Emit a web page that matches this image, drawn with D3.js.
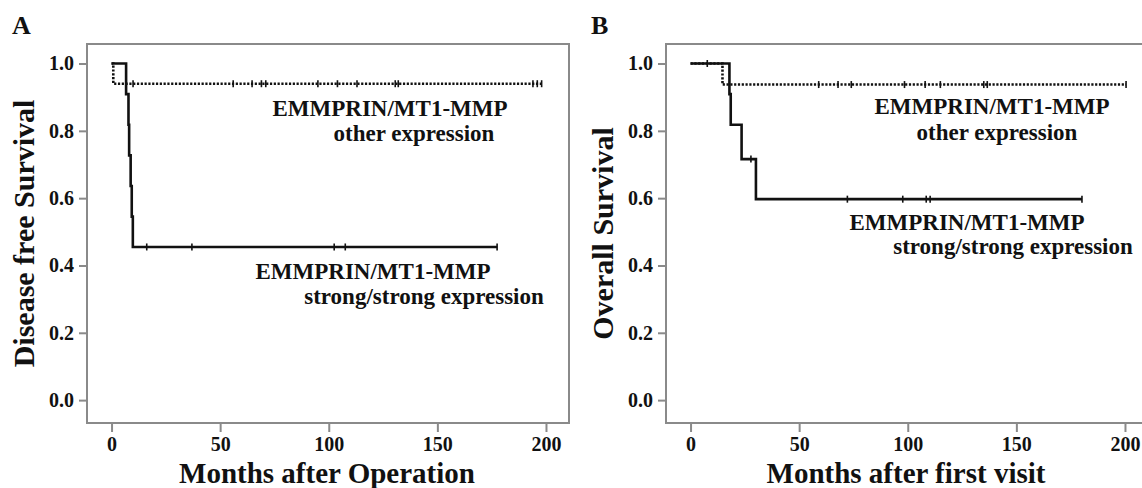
<!DOCTYPE html>
<html>
<head>
<meta charset="utf-8">
<script src="https://cdnjs.cloudflare.com/ajax/libs/d3/7.9.0/d3.min.js"></script>
<style>
  html, body { margin: 0; padding: 0; background: #fff; overflow: hidden; }
  text { font-family: "Liberation Serif", "DejaVu Serif", serif; font-weight: bold; fill: #111; }
</style>
</head>
<body>
<div id="grafico"></div>
<script>
// --- dados ---
const TICKS_X = [0, 50, 100, 150, 200];
const TICKS_Y = [0.0, 0.2, 0.4, 0.6, 0.8, 1.0];

// Painel A — sobrevida livre de doença
const A_FORTE_TEMPO  = [0, 6.7, 7.8, 8.1, 8.8, 9.3, 9.8, 177.5];
const A_FORTE_SOBREV = [1, 0.909, 0.818, 0.727, 0.636, 0.545, 0.455, 0.455];
const A_FORTE_CENSURA = [16.2, 37, 102.5, 107.6, 177.5];

const A_OUTRA_TEMPO  = [0, 0.8, 198];
const A_OUTRA_SOBREV = [1, 0.94, 0.94];
const A_OUTRA_CENSURA = [9.9, 56, 64.7, 69, 71, 95, 104, 113, 130.6, 132, 194, 196, 198];

// Painel B — sobrevida global
const B_FORTE_TEMPO  = [0, 17.9, 18.5, 23.5, 30.1, 180.2];
const B_FORTE_SOBREV = [1, 0.909, 0.818, 0.716, 0.597, 0.597];
const B_FORTE_CENSURA = [27.8, 72.2, 97.7, 108.5, 110.3, 180.2];

const B_OUTRA_TEMPO  = [0, 14.7, 200.5];
const B_OUTRA_SOBREV = [1, 0.9375, 0.9375];
const B_OUTRA_CENSURA = [7.7, 59, 67.9, 74, 98.5, 108, 115, 135, 136.6, 200.5];

const PAINEIS = [
  {
    letra: "A", x0: 87, tituloX: "Months after Operation", tituloY: "Disease free Survival",
    forte: { t: A_FORTE_TEMPO, s: A_FORTE_SOBREV, c: A_FORTE_CENSURA },
    outra: { t: A_OUTRA_TEMPO, s: A_OUTRA_SOBREV, c: A_OUTRA_CENSURA },
    rotulos: [
      { txt: "EMMPRIN/MT1-MMP", x: 390, y: 116 },
      { txt: "other expression", x: 414, y: 141 },
      { txt: "EMMPRIN/MT1-MMP", x: 373, y: 279 },
      { txt: "strong/strong expression", x: 424, y: 304 }
    ]
  },
  {
    letra: "B", x0: 666, tituloX: "Months after first visit", tituloY: "Overall Survival",
    forte: { t: B_FORTE_TEMPO, s: B_FORTE_SOBREV, c: B_FORTE_CENSURA },
    outra: { t: B_OUTRA_TEMPO, s: B_OUTRA_SOBREV, c: B_OUTRA_CENSURA },
    rotulos: [
      { txt: "EMMPRIN/MT1-MMP", x: 992, y: 114 },
      { txt: "other expression", x: 997, y: 140 },
      { txt: "EMMPRIN/MT1-MMP", x: 967, y: 230 },
      { txt: "strong/strong expression", x: 1013, y: 254 }
    ]
  }
];

const LARG = 1142, ALT = 488;
const TOPO = 44, BASE = 423, LARG_PAINEL = 482;
const COR_MOLDURA = "#8a8a8a";

const svg = d3.select("#grafico").append("svg")
  .attr("width", LARG).attr("height", ALT);

const y = d3.scaleLinear().domain([-0.068, 1.058]).range([BASE, TOPO]);

// valor de sobrevida num instante (degrau)
function sobrevEm(serie, t) {
  let v = serie.s[0];
  serie.t.forEach((tt, i) => { if (tt <= t) v = serie.s[i]; });
  return v;
}

PAINEIS.forEach(p => {
  const x = d3.scaleLinear().domain([-11.3, 210.6]).range([p.x0, p.x0 + LARG_PAINEL]);
  const g = svg.append("g");

  // moldura
  g.append("rect")
    .attr("x", p.x0).attr("y", TOPO)
    .attr("width", LARG_PAINEL).attr("height", BASE - TOPO)
    .attr("fill", "none").attr("stroke", COR_MOLDURA).attr("stroke-width", 2);

  // eixo X
  const eixoX = g.append("g").attr("transform", `translate(0,${BASE})`)
    .call(d3.axisBottom(x).tickValues(TICKS_X).tickFormat(d3.format("d")).tickSize(9).tickPadding(5));
  eixoX.select(".domain").remove();
  eixoX.selectAll("line").attr("stroke", COR_MOLDURA).attr("stroke-width", 2);
  eixoX.selectAll("text").attr("font-size", 20).attr("font-family", null);

  // eixo Y
  const eixoY = g.append("g").attr("transform", `translate(${p.x0},0)`)
    .call(d3.axisLeft(y).tickValues(TICKS_Y).tickFormat(d3.format(".1f")).tickSize(8).tickPadding(5));
  eixoY.select(".domain").remove();
  eixoY.selectAll("line").attr("stroke", COR_MOLDURA).attr("stroke-width", 2);
  eixoY.selectAll("text").attr("font-size", 20).attr("font-family", null);

  // títulos
  g.append("text").attr("x", p.x0 + 240).attr("y", 483)
    .attr("text-anchor", "middle").attr("font-size", 29).text(p.tituloX);
  g.append("text")
    .attr("transform", `translate(${p.x0 - 53},${(TOPO + BASE) / 2}) rotate(-90)`)
    .attr("text-anchor", "middle").attr("font-size", 30).text(p.tituloY);
  g.append("text").attr("x", p.x0 - 75).attr("y", 34)
    .attr("font-size", 26).text(p.letra);

  // curvas de Kaplan-Meier
  const linha = d3.line()
    .x(d => x(d[0])).y(d => y(d[1]))
    .curve(d3.curveStepAfter);

  [["outra", "2.2,1.6"], ["forte", null]].forEach(([k, dash]) => {
    const serie = p[k];
    const pts = serie.t.map((t, i) => [t, serie.s[i]]);
    g.append("path").datum(pts)
      .attr("d", linha)
      .attr("fill", "none").attr("stroke", "#111")
      .attr("stroke-width", 2.6)
      .attr("stroke-dasharray", dash);

    // marcas de censura
    g.selectAll(null).data(serie.c).enter().append("line")
      .attr("x1", d => x(d)).attr("x2", d => x(d))
      .attr("y1", d => y(sobrevEm(serie, d)) - 3.5)
      .attr("y2", d => y(sobrevEm(serie, d)) + 3.5)
      .attr("stroke", "#111").attr("stroke-width", 1.6);
  });

  // rótulos dos grupos
  g.selectAll(null).data(p.rotulos).enter().append("text")
    .attr("x", d => d.x).attr("y", d => d.y)
    .attr("text-anchor", "middle").attr("font-size", 23)
    .text(d => d.txt);
});
</script>
</body>
</html>
